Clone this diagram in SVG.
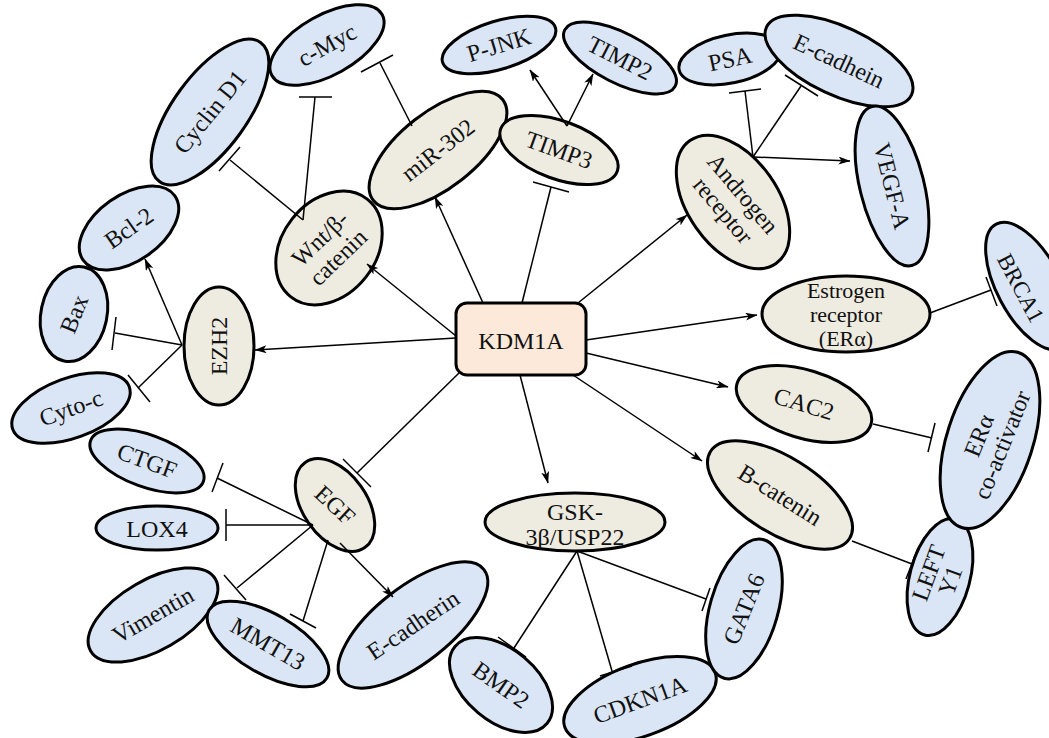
<svg xmlns="http://www.w3.org/2000/svg" width="1049" height="738" viewBox="0 0 1049 738">
<defs>
<style>
.b{fill:#dae5f5;stroke:#000;stroke-width:3}
.t{fill:#eeebe0;stroke:#000;stroke-width:3}
.k{fill:#fde9d9;stroke:#000;stroke-width:3}
text{font-family:"Liberation Serif","Times New Roman",serif;font-size:24px;fill:#111;text-anchor:middle}
.c line{stroke:#000;stroke-width:1.5}
</style>
<marker id="arr" viewBox="0 0 12 8" refX="11.5" refY="4" markerWidth="12" markerHeight="8" orient="auto" markerUnits="userSpaceOnUse"><path d="M0,0 L12,4 L0,8 L3,4 z" fill="#000"/></marker>
</defs>
<rect width="1049" height="738" fill="#fff"/>

<g id="kdm1a"><rect class="k" x="456" y="303" width="130" height="72" rx="11"/><text x="521" y="349">KDM1A</text></g>

<g id="cmyc" transform="translate(327,45) rotate(-29)"><ellipse class="b" rx="63" ry="30"/><text y="8">c-Myc</text></g>
<g id="cyclind1" transform="translate(210,112) rotate(-54)"><ellipse class="b" rx="86" ry="37"/><text y="8" transform="rotate(3)">Cyclin D1</text></g>
<g id="bcl2" transform="translate(129,228) rotate(-35)"><ellipse class="b" rx="56" ry="33"/><text y="8">Bcl-2</text></g>
<g id="bax" transform="translate(74,314) rotate(-78)"><ellipse class="b" rx="48" ry="33"/><text y="8" transform="rotate(10)">Bax</text></g>
<g id="cytoc" transform="translate(71,408) rotate(-20)"><ellipse class="b" rx="62" ry="30"/><text y="8">Cyto-c</text></g>
<g id="ctgf" transform="translate(147,461) rotate(20)"><ellipse class="b" rx="60" ry="26"/><text y="8">CTGF</text></g>
<g id="lox4" transform="translate(157,528)"><ellipse class="b" rx="61" ry="22"/><text y="9">LOX4</text></g>
<g id="vimentin" transform="translate(153,615) rotate(-30)"><ellipse class="b" rx="72" ry="35"/><text y="8">Vimentin</text></g>
<g id="mmt13" transform="translate(268,644) rotate(30)"><ellipse class="b" rx="68" ry="30"/><text y="8">MMT13</text></g>
<g id="ecadherin" transform="translate(413,625) rotate(-38)"><ellipse class="b" rx="90" ry="38"/><text y="8" transform="rotate(4)">E-cadherin</text></g>
<g id="bmp2" transform="translate(501,685) rotate(40)"><ellipse class="b" rx="60" ry="36"/><text y="8" transform="rotate(-5)">BMP2</text></g>
<g id="cdkn1a" transform="translate(640,700) rotate(-20)"><ellipse class="b" rx="80" ry="36"/><text y="8">CDKN1A</text></g>
<g id="gata6" transform="translate(744,609) rotate(-74)"><ellipse class="b" rx="72" ry="34"/><text y="8" transform="rotate(6)">GATA6</text></g>
<g id="lefty1" transform="translate(940,577) rotate(-75)"><ellipse class="b" rx="60" ry="30"/><text y="-4" transform="rotate(5)"><tspan x="0">LEFT</tspan><tspan x="0" dy="23">Y1</tspan></text></g>
<g id="eracoact" transform="translate(990,440) rotate(-72)"><ellipse class="b" rx="92" ry="43"/><text y="-4" transform="rotate(4)"><tspan x="0">ERα</tspan><tspan x="0" dy="25">co-activator</tspan></text></g>
<g id="brca1" transform="translate(1029,286) rotate(62)"><ellipse class="b" rx="70" ry="32"/><text x="-2" y="16" style="font-size:23px">BRCA1</text></g>
<g id="er" transform="translate(846,314)"><ellipse class="t" rx="84" ry="38"/><text y="-16" style="font-size:22px"><tspan x="0">Estrogen</tspan><tspan x="0" dy="24">receptor</tspan><tspan x="0" dy="24">(ERα)</tspan></text></g>
<g id="cac2" transform="translate(804,404) rotate(17)"><ellipse class="t" rx="70" ry="34"/><text y="8">CAC2</text></g>
<g id="bcatenin" transform="translate(780,495) rotate(32)"><ellipse class="t" rx="82" ry="38"/><text y="8">B-catenin</text></g>
<g id="egf" transform="translate(335,505) rotate(55)"><ellipse class="t" rx="52" ry="32"/><text y="8" transform="rotate(-12)">EGF</text></g>
<g id="ezh2" transform="translate(219,346) rotate(-90)"><ellipse class="t" rx="59" ry="35"/><text y="8">EZH2</text></g>
<g id="wnt" transform="translate(329,248) rotate(-52)"><ellipse class="t" rx="62" ry="47"/><text y="-5" transform="rotate(8)"><tspan x="0">Wnt/β-</tspan><tspan x="0" dy="26">catenin</tspan></text></g>
<g id="mir302" transform="translate(438,150) rotate(-38)"><ellipse class="t" rx="82" ry="38"/><text y="8">miR-302</text></g>
<g id="timp3" transform="translate(559,150) rotate(20)"><ellipse class="t" rx="62" ry="29"/><text y="8">TIMP3</text></g>
<g id="pjnk" transform="translate(499,45) rotate(-17)"><ellipse class="b" rx="59" ry="24"/><text y="8">P-JNK</text></g>
<g id="timp2" transform="translate(620,58) rotate(27)"><ellipse class="b" rx="62" ry="25"/><text y="8">TIMP2</text></g>
<g id="psa" transform="translate(730,59) rotate(-12)"><ellipse class="b" rx="52" ry="24"/><text y="8">PSA</text></g>
<g id="ecadhein" transform="translate(839,61) rotate(25)"><ellipse class="b" rx="80" ry="34"/><text y="8">E-cadhein</text></g>
<g id="vegfa" transform="translate(892,186) rotate(76)"><ellipse class="b" rx="82" ry="32"/><text y="8">VEGF-A</text></g>
<g id="ar" transform="translate(733,202) rotate(55)"><ellipse class="t" rx="75" ry="45"/><text y="-5" transform="rotate(-5)"><tspan x="0">Androgen</tspan><tspan x="0" dy="26">receptor</tspan></text></g>
<g id="gsk" transform="translate(575,522)"><ellipse class="t" rx="90" ry="29"/><text y="-2"><tspan x="0">GSK-</tspan><tspan x="0" dy="25">3β/USP22</tspan></text></g>

<g class="c" id="connectors">
<line x1="456" y1="336" x2="367" y2="264" marker-end="url(#arr)"/>
<line x1="483" y1="303" x2="435" y2="197" marker-end="url(#arr)"/>
<line x1="522" y1="303" x2="551" y2="187"/><line x1="533" y1="182" x2="569" y2="192"/>
<line x1="578" y1="303" x2="687" y2="215" marker-end="url(#arr)"/>
<line x1="586" y1="340" x2="757" y2="315" marker-end="url(#arr)"/>
<line x1="586" y1="353" x2="728" y2="387" marker-end="url(#arr)"/>
<line x1="573" y1="375" x2="702" y2="461" marker-end="url(#arr)"/>
<line x1="520" y1="375" x2="548" y2="483" marker-end="url(#arr)"/>
<line x1="459" y1="373" x2="357" y2="473"/><line x1="343" y1="459" x2="371" y2="487"/>
<line x1="456" y1="338" x2="255" y2="350" marker-end="url(#arr)"/>

<line x1="182" y1="345" x2="145" y2="259" marker-end="url(#arr)"/>
<line x1="182" y1="345" x2="115" y2="333"/><line x1="116" y1="317" x2="112" y2="350"/>
<line x1="182" y1="345" x2="138" y2="388"/><line x1="128" y1="375" x2="150" y2="402"/>

<line x1="303" y1="220" x2="315" y2="97"/><line x1="299" y1="97" x2="332" y2="97"/>
<line x1="303" y1="220" x2="230" y2="160"/><line x1="219" y1="171" x2="240" y2="147"/>

<line x1="412" y1="126" x2="380" y2="63"/><line x1="361" y1="72" x2="393" y2="55"/>

<line x1="567" y1="126" x2="530" y2="70" marker-end="url(#arr)"/>
<line x1="567" y1="126" x2="593" y2="74" marker-end="url(#arr)"/>

<line x1="753" y1="157" x2="745" y2="91"/><line x1="729" y1="93" x2="761" y2="89"/>
<line x1="753" y1="157" x2="801" y2="86"/><line x1="785" y1="75" x2="818" y2="96"/>
<line x1="753" y1="157" x2="850" y2="161" marker-end="url(#arr)"/>

<line x1="930" y1="313" x2="991" y2="290"/><line x1="986" y1="277" x2="997" y2="306"/>
<line x1="873" y1="424" x2="932" y2="438"/><line x1="935" y1="423" x2="928" y2="452"/>
<line x1="852" y1="541" x2="912" y2="564"/><line x1="918" y1="548" x2="906" y2="579"/>

<line x1="577" y1="551" x2="514" y2="648"/><line x1="498" y1="637" x2="526" y2="657"/>
<line x1="577" y1="551" x2="612" y2="671"/><line x1="600" y1="676" x2="632" y2="666"/>
<line x1="577" y1="551" x2="706" y2="599"/><line x1="710" y1="588" x2="702" y2="611"/>

<line x1="313" y1="525" x2="217" y2="478"/><line x1="223" y1="463" x2="212" y2="492"/>
<line x1="313" y1="525" x2="226" y2="525"/><line x1="226" y1="509" x2="226" y2="541"/>
<line x1="313" y1="525" x2="237" y2="588"/><line x1="224" y1="575" x2="246" y2="600"/>
<line x1="328" y1="540" x2="303" y2="621"/><line x1="290" y1="614" x2="316" y2="628"/>
<line x1="340" y1="543" x2="393" y2="597" marker-end="url(#arr)"/>
</g>
</svg>
